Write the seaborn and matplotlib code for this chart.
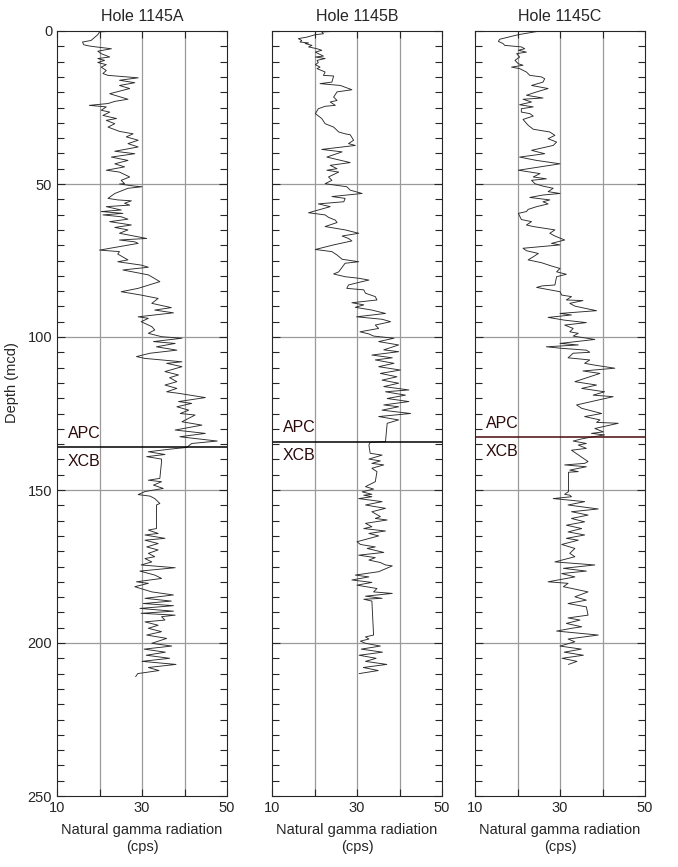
import matplotlib
matplotlib.use("Agg")
import matplotlib.pyplot as plt
from matplotlib.ticker import MultipleLocator
import pandas as pd
import seaborn as sns

sns.set_style("ticks")
plt.rcParams["font.family"] = ["Liberation Sans", "DejaVu Sans"]
plt.rcParams["font.size"] = 10

holes = ["Hole 1145A", "Hole 1145B", "Hole 1145C"]
# APC / XCB boundary depth (mcd) in each hole
apc_xcb = [136.1, 134.2, 132.8]

# (depth mcd, gamma cps)
hole_a = [
    (0, 24.3), (0.3, 20.0), (1.2, 19.6), (3.1, 18.0), (3.6, 16.0), (4.5, 16.3), (4.9, 17.6), (5.2, 19.2),
    (5.8, 22.8), (6.6, 19.6), (7.4, 20.4), (8.5, 22.4), (9.0, 19.6), (9.6, 21.2), (10.3, 19.6), (11.0, 21.6),
    (11.8, 20.4), (12.9, 21.6), (13.9, 20.8), (14.5, 22.0), (15.3, 29.1), (16.1, 24.7), (16.9, 28.3),
    (17.8, 24.7), (18.8, 27.1), (20.5, 22.4), (22.3, 26.7), (23.0, 23.6), (23.7, 22.0), (24.3, 17.6),
    (24.8, 21.6), (25.9, 20.4), (26.5, 22.4), (27.6, 20.8), (28.6, 24.0), (29.2, 21.6), (30.3, 23.6),
    (31.4, 22.0), (32.8, 24.7), (33.6, 27.9), (34.6, 26.3), (35.7, 29.1), (36.8, 26.7), (37.9, 29.1),
    (39.3, 23.6), (40.1, 28.3), (41.2, 22.8), (42.3, 26.7), (43.4, 23.6), (44.4, 25.9), (45.5, 21.6),
    (46.1, 24.7), (47.7, 27.1), (48.8, 25.1), (49.9, 25.9),
    (50.0, 24.7), (50.7, 28.3), (50.9, 30.0), (51.4, 26.7), (53.1, 23.6), (54.7, 22.0), (55.2, 24.3),
    (55.5, 27.5), (56.3, 25.9), (56.9, 27.1), (57.4, 21.6), (58.5, 25.1), (59.0, 20.4), (59.6, 25.5),
    (60.1, 20.8), (60.7, 25.1), (61.5, 26.7), (62.3, 22.4), (63.4, 27.5), (64.2, 23.6), (65.0, 26.7),
    (66.1, 24.7), (67.8, 31.1), (68.3, 24.7), (68.9, 28.3), (69.4, 29.1), (71.6, 20.0), (72.1, 24.7),
    (72.9, 24.3), (74.8, 26.7), (75.4, 24.3), (76.5, 29.8), (77.2, 31.5), (78.1, 25.5), (79.7, 31.5),
    (81.9, 34.2), (84.1, 29.1), (85.2, 25.1), (86.3, 29.8), (87.4, 33.8), (89.0, 32.3), (90.4, 36.9),
    (91.2, 33.0), (92.1, 37.4), (93.4, 29.1), (93.9, 31.5), (95.0, 29.8), (96.6, 32.3), (97.7, 33.0),
    (98.8, 31.5), (99.9, 34.6), (100.4, 39.4),
    (101.5, 32.7), (102.1, 37.8), (103.2, 33.4), (104.3, 38.2), (105.3, 31.9), (106.4, 28.7), (107.0, 30.7),
    (108.1, 39.4), (108.6, 35.8), (109.7, 39.4), (111.3, 35.4), (112.4, 38.6), (113.3, 36.5), (114.6, 38.2),
    (115.7, 35.4), (116.8, 38.2), (117.9, 35.8), (118.4, 38.6), (119.8, 44.9), (121.1, 38.6), (121.7, 41.7),
    (122.8, 38.2), (123.9, 41.0), (125.0, 39.0), (125.5, 42.5), (127.7, 39.4), (128.8, 44.1), (130.4, 37.8),
    (131.5, 44.9), (132.6, 38.9), (134.0, 47.7), (134.8, 41.7), (136.1, 40.5), (136.6, 36.9), (137.5, 31.5),
    (138.4, 35.4), (139.1, 31.1), (139.9, 34.6), (140.7, 34.6), (146.2, 34.2), (146.8, 31.5), (147.3, 34.6),
    (148.4, 32.7), (149.5, 35.0), (150.5, 30.7),
    (151.5, 29.1), (152.0, 31.9), (152.8, 33.0), (154.4, 34.2), (154.9, 33.4), (162.6, 33.4), (163.1, 31.5),
    (164.2, 33.8), (164.7, 30.7), (165.8, 35.4), (166.4, 30.7), (167.5, 33.8), (168.6, 31.1), (169.6, 33.8),
    (170.7, 31.5), (171.8, 33.0), (172.4, 30.7), (173.5, 32.3), (174.5, 29.8), (175.4, 37.8), (176.5, 29.5),
    (177.8, 33.0), (178.9, 34.6), (180.0, 28.7), (180.5, 31.5), (181.6, 28.3), (183.3, 32.3), (184.3, 37.4),
    (185.4, 30.7), (186.3, 36.9), (187.1, 30.3), (187.8, 37.4), (188.7, 29.5), (189.6, 37.4), (190.3, 29.8),
    (190.9, 37.8), (191.4, 34.6), (192.5, 35.4), (193.1, 30.7), (194.2, 33.8), (195.2, 31.5), (196.3, 34.6),
    (197.4, 31.1), (198.5, 35.8), (200.1, 32.3), (201.0, 37.0), (202.0, 30.5), (203.0, 35.5), (204.0, 31.0),
    (205.0, 36.5), (206.0, 30.0), (207.0, 38.0), (208.0, 31.5), (209.0, 34.0), (210.0, 29.0), (211.0, 28.5),
]

hole_b = [
    (0, 26.9), (0.3, 21.7), (0.9, 22.1), (1.2, 20.2), (2.0, 18.2), (2.5, 16.2), (3.1, 17.0), (3.6, 16.6),
    (3.9, 18.6), (4.1, 17.8), (4.7, 19.4), (5.2, 18.6), (5.8, 20.6), (6.3, 21.7), (6.9, 20.2), (7.4, 20.9),
    (8.2, 22.1), (8.5, 20.2), (9.0, 22.5), (9.6, 20.6), (10.3, 20.9), (11.0, 20.2), (11.8, 21.3), (12.3, 20.6),
    (13.4, 22.5), (14.5, 22.1), (14.7, 24.5), (16.7, 24.1), (17.2, 21.3), (17.8, 26.1), (19.2, 28.8),
    (19.9, 25.3), (21.6, 24.5), (22.7, 25.3), (23.2, 23.7), (24.3, 24.9), (24.6, 22.5), (25.4, 20.9),
    (27.0, 20.2), (28.6, 21.7), (30.3, 22.5), (31.4, 24.5), (33.0, 25.7), (33.6, 27.2), (33.9, 28.4),
    (35.7, 29.2), (36.8, 28.0), (37.4, 29.6), (38.7, 21.7), (39.5, 26.5), (41.2, 22.9), (43.0, 28.4),
    (43.9, 23.7), (45.0, 25.3), (45.5, 22.9), (46.1, 25.7), (47.7, 23.3), (48.8, 24.1), (49.9, 22.5),
    (50.9, 27.6), (52.0, 28.4), (53.1, 31.2), (54.1, 24.1), (54.7, 27.2), (55.8, 26.9), (56.5, 20.9),
    (57.4, 23.7), (59.4, 18.6), (60.1, 22.5), (60.9, 23.3), (61.8, 24.9), (62.6, 25.3), (63.9, 22.5),
    (65.0, 27.2), (66.1, 30.4), (67.0, 26.5), (67.8, 28.0), (68.6, 28.8), (69.9, 24.5), (71.4, 20.2),
    (72.1, 24.1), (73.2, 25.3), (74.6, 26.5), (75.4, 30.4), (75.9, 27.2), (78.7, 25.7), (79.4, 24.5),
    (80.3, 27.2), (80.8, 30.4), (81.4, 32.8), (81.9, 31.2), (83.0, 28.0), (84.1, 27.6), (84.6, 31.6),
    (85.7, 32.0), (86.8, 34.3), (87.9, 34.7), (88.8, 28.8), (89.5, 31.6), (90.3, 29.6), (91.2, 33.5),
    (92.3, 36.7), (93.4, 29.9), (94.2, 35.9), (95.0, 37.9), (96.1, 34.3), (97.2, 35.1), (98.3, 30.7),
    (99.0, 32.8), (99.7, 33.9), (100.4, 38.7),
    (101.5, 35.1), (102.6, 39.8), (104.2, 36.3), (104.8, 39.8), (105.9, 33.5), (106.8, 38.3), (107.5, 34.3),
    (108.6, 38.7), (109.7, 35.1), (110.8, 40.2), (111.9, 35.5), (113.0, 39.4), (114.1, 35.9), (115.1, 39.8),
    (116.2, 36.3), (117.3, 42.2), (117.9, 36.7), (119.0, 41.4), (120.1, 37.1), (121.1, 42.2), (122.2, 36.3),
    (122.8, 39.8), (123.9, 35.9), (125.0, 42.6), (126.0, 35.1), (127.1, 39.8), (128.2, 37.1), (134.2, 36.7),
    (134.4, 33.1), (135.3, 32.8), (138.0, 33.1), (138.6, 35.9), (139.9, 32.8), (140.5, 35.5), (141.3, 33.5),
    (141.8, 36.3), (142.9, 33.5), (144.0, 34.7), (147.3, 34.3), (148.9, 32.0), (149.7, 33.9), (150.6, 31.2),
    (151.4, 33.5),
    (151.7, 31.6), (152.2, 33.5), (152.8, 30.4), (153.8, 35.9), (154.9, 32.0), (156.0, 36.7), (157.1, 33.5),
    (158.7, 35.5), (159.3, 34.3), (159.8, 37.1), (160.9, 32.0), (162.0, 33.5), (162.6, 31.6), (163.4, 36.7),
    (164.2, 32.8), (165.0, 35.1), (165.6, 33.5), (166.9, 30.0), (167.8, 30.8), (168.6, 34.3), (169.1, 32.4),
    (170.4, 36.3), (171.3, 30.4), (172.1, 34.3), (172.9, 32.8), (173.7, 35.5), (174.5, 36.7), (174.8, 38.3),
    (176.7, 35.1), (177.8, 29.6), (178.4, 32.8), (179.4, 28.8), (180.2, 33.5), (181.1, 30.0), (182.2, 34.7),
    (183.3, 33.9), (183.8, 38.3), (184.7, 32.0), (185.4, 35.9), (185.7, 31.6), (186.3, 33.5), (197.4, 33.9),
    (198.0, 32.0), (198.7, 32.8), (199.4, 30.8), (200.1, 32.0), (201.0, 35.5), (202.0, 31.0), (203.0, 36.0),
    (204.0, 30.5), (205.0, 34.5), (206.0, 32.0), (207.0, 37.0), (208.0, 31.5), (209.0, 35.0), (210.0, 30.5),
]

hole_c = [
    (0, 25.3), (1.2, 20.2), (2.0, 17.8), (2.7, 15.8), (3.4, 15.5), (4.1, 16.6), (4.7, 17.0), (5.2, 20.9),
    (5.8, 21.7), (6.3, 20.2), (6.9, 22.1), (7.4, 19.8), (8.5, 20.5), (9.6, 19.4), (10.7, 20.2), (11.2, 21.3),
    (11.8, 18.6), (12.3, 20.5), (13.4, 22.1), (14.5, 22.9), (15.0, 25.6), (15.6, 26.4), (16.7, 26.0),
    (17.8, 23.3), (18.8, 27.2), (19.9, 24.5), (21.0, 22.1), (21.9, 26.0), (22.3, 21.3), (23.2, 23.3),
    (24.1, 20.5), (24.8, 23.7), (25.4, 20.9), (26.5, 20.9), (27.0, 22.9), (27.8, 23.7), (28.9, 21.3),
    (30.8, 22.5), (32.1, 23.7), (33.0, 27.6), (34.1, 28.8), (35.2, 27.2), (36.3, 29.2), (37.4, 28.4),
    (39.0, 23.3), (40.1, 26.4), (41.2, 20.5), (42.3, 24.5), (43.4, 30.0), (45.5, 20.2), (46.6, 25.3),
    (47.7, 23.7), (48.3, 26.8), (48.8, 23.3), (49.9, 24.1),
    (50.7, 26.0), (51.4, 28.4), (52.5, 27.2), (53.1, 30.0), (53.6, 26.0), (54.4, 22.9), (55.2, 27.6),
    (55.8, 26.0), (56.5, 27.2), (57.4, 24.5), (58.3, 22.5), (59.0, 22.1), (59.6, 20.2), (61.6, 20.9),
    (62.3, 23.3), (63.4, 22.1), (63.9, 23.7), (65.0, 28.8), (66.1, 27.6), (67.0, 28.8), (68.3, 31.1),
    (69.4, 28.0), (69.9, 30.0), (71.0, 21.3), (71.8, 22.1), (72.7, 24.9), (73.8, 23.7), (74.8, 22.5),
    (75.7, 25.6), (76.8, 28.0), (77.6, 30.0), (78.7, 29.2), (79.5, 31.5), (80.3, 29.2), (83.0, 28.8),
    (83.3, 25.8), (83.8, 24.5), (85.2, 30.0), (86.3, 30.4), (86.8, 32.7), (87.9, 31.5), (88.1, 35.4),
    (89.0, 32.3), (89.9, 33.5), (90.6, 35.8), (91.4, 38.6), (92.3, 30.0), (92.8, 32.7), (93.6, 27.2),
    (94.5, 31.1), (95.3, 36.2), (96.1, 31.1), (97.2, 33.1), (98.3, 32.3), (98.8, 34.3), (99.7, 33.1),
    (100.8, 38.2),
    (102.1, 30.0), (102.6, 34.3), (103.2, 26.8), (103.7, 30.4), (104.3, 36.2), (105.0, 37.0), (105.3, 33.1),
    (106.8, 31.9), (107.5, 37.0), (108.6, 35.8), (109.2, 38.2), (110.2, 42.9), (111.1, 35.4), (111.9, 39.4),
    (114.6, 33.5), (115.7, 38.6), (116.8, 35.1), (117.9, 40.5), (119.0, 37.8), (119.5, 42.5), (122.2, 33.9),
    (123.3, 35.1), (125.0, 39.8), (126.0, 35.8), (127.1, 39.4), (127.9, 38.6), (128.2, 43.7), (129.9, 38.2),
    (131.0, 40.2), (131.5, 37.4), (132.0, 40.5), (132.8, 37.0), (133.3, 35.1), (134.0, 33.1), (134.8, 36.2),
    (135.3, 34.3), (136.4, 36.2), (137.0, 32.7), (140.7, 36.6), (141.3, 35.8), (141.8, 31.1), (142.4, 36.2),
    (143.5, 32.3), (144.0, 34.3), (144.2, 32.0), (150.5, 32.0), (151.4, 31.1),
    (151.7, 32.3), (152.2, 32.7), (152.8, 28.4), (153.8, 35.8), (154.9, 31.9), (156.2, 39.0), (157.1, 32.7),
    (158.2, 36.6), (159.3, 32.7), (160.4, 35.8), (161.5, 31.5), (162.6, 35.1), (163.7, 31.9), (164.7, 35.8),
    (165.8, 31.5), (166.4, 34.3), (167.8, 30.4), (169.1, 33.5), (170.7, 32.3), (171.8, 33.5), (173.5, 28.8),
    (174.5, 38.2), (175.6, 30.8), (176.5, 36.2), (177.3, 30.4), (178.4, 33.5), (180.0, 27.2), (180.5, 31.9),
    (181.6, 30.8), (183.3, 36.6), (184.9, 33.5), (186.0, 36.2), (187.1, 31.9), (188.2, 36.2), (190.9, 36.6),
    (191.8, 31.9), (192.5, 34.7), (193.6, 31.5), (194.7, 35.1), (195.2, 32.7), (196.1, 29.2), (197.4, 39.0),
    (198.7, 31.9), (199.6, 33.5), (201.0, 30.0), (202.0, 35.0), (203.0, 31.0), (204.0, 35.5), (205.0, 30.5),
    (206.0, 34.0), (207.0, 32.0),
]

logs = [hole_a, hole_b, hole_c]
boundary_colors = ["black", "black", "#4a0a0a"]

fig = plt.figure(figsize=(6.78, 8.67), dpi=100)
lefts = [57 / 678, 272 / 678, 475 / 678]

for i, (name, pts) in enumerate(zip(holes, logs)):
    ax = fig.add_axes([lefts[i], 71 / 867, 170 / 678, 765 / 867])
    df = pd.DataFrame(pts, columns=["depth", "gamma"])

    for x in [20, 30, 40]:
        ax.axvline(x, color="#9a9a9a", lw=0.9, zorder=0)
    for y in [50, 100, 150, 200]:
        ax.axhline(y, color="#9a9a9a", lw=0.9, zorder=0)

    sns.lineplot(data=df, x="gamma", y="depth", sort=False, estimator=None,
                 color="#2b2b2b", lw=0.65, ax=ax)

    ax.axhline(apc_xcb[i], color=boundary_colors[i], lw=1.1)
    ax.text(12.5, apc_xcb[i] - 4.5, "APC", fontsize=11.5, va="center", color="#2a0a0a")
    ax.text(12.5, apc_xcb[i] + 4.5, "XCB", fontsize=11.5, va="center", color="#2a0a0a")

    ax.set_xlim(10, 50)
    ax.set_ylim(250, 0)
    ax.set_xticks([10, 20, 30, 40, 50])
    ax.set_xticklabels(["10", "", "30", "", "50"])
    ax.yaxis.set_major_locator(MultipleLocator(50))
    ax.yaxis.set_minor_locator(MultipleLocator(5))
    ax.tick_params(axis="both", which="both", direction="in", top=True, right=True,
                   labelsize=10.5, width=0.8)
    ax.tick_params(axis="y", which="major", length=6)
    ax.tick_params(axis="y", which="minor", length=5)
    ax.tick_params(axis="x", which="major", length=5)
    for s in ax.spines.values():
        s.set_linewidth(0.8)

    ax.set_title(name, fontsize=11.5, pad=7)
    ax.set_xlabel("Natural gamma radiation\n(cps)", fontsize=10.5, labelpad=6, linespacing=1.3)
    if i == 0:
        ax.set_ylabel("Depth (mcd)", fontsize=10.5)
        ax.yaxis.set_label_coords(-0.225, 0.54)
    else:
        ax.set_ylabel("")
        ax.set_yticklabels([])

fig.savefig("out.png", dpi=100)
